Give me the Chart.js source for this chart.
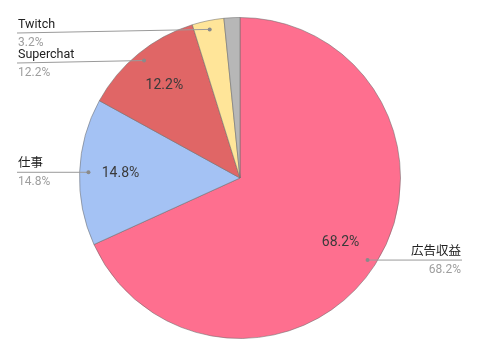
<!DOCTYPE html>
<html><head><meta charset="utf-8">
<script src="https://cdn.jsdelivr.net/npm/chart.js@4/dist/chart.umd.min.js"></script>
<style>html,body{margin:0;padding:0;background:#fff}#wrap{width:480px;height:354px}</style>
</head><body><div id="wrap"><canvas id="c"></canvas></div>
<script>
const categories = ['広告収益', '仕事', 'Superchat', 'Twitch', ''];
const values = [68.2, 14.8, 12.2, 3.2, 1.6];
const percentLabels = ['68.2%', '14.8%', '12.2%', '3.2%', ''];
const colors = ['#fe6f8f', '#a4c2f4', '#e06666', '#ffe599', '#b7b7b7'];
// layout for outside labels (style/position only)
const outerLayout = [
  {side: 'right', x: 462, lineY: null},
  {side: 'left', x: 17, lineY: null},
  {side: 'left', x: 17, lineY: 63},
  {side: 'left', x: 17, lineY: 33},
  null
];
const FONT = 'Roboto, "Noto Sans CJK JP", sans-serif';

const labelPlugin = {
  id: 'pieLabels',
  afterDatasetsDraw(chart) {
    const ctx = chart.ctx;
    const meta = chart.getDatasetMeta(0);
    meta.data.forEach((arc, i) => {
      const p = arc.getProps(['x', 'y', 'startAngle', 'endAngle', 'outerRadius'], true);
      const mid = (p.startAngle + p.endAngle) / 2;
      const R = p.outerRadius;
      // inner label
      if (percentLabels[i] && values[i] > 5) {
        ctx.save();
        ctx.font = '14px ' + FONT;
        ctx.fillStyle = '#3a3a3a';
        ctx.textAlign = 'center';
        ctx.textBaseline = 'middle';
        ctx.fillText(percentLabels[i], p.x + Math.cos(mid) * R * 0.745, p.y + Math.sin(mid) * R * 0.745);
        ctx.restore();
      }
      const lay = outerLayout[i];
      if (!lay) return;
      const dx = p.x + Math.cos(mid) * R * 0.945;
      const dy = p.y + Math.sin(mid) * R * 0.945;
      const ly = lay.lineY == null ? dy : lay.lineY;
      ctx.save();
      ctx.strokeStyle = '#9a9a9a';
      ctx.lineWidth = 1;
      ctx.beginPath();
      ctx.moveTo(lay.x, ly);
      ctx.lineTo(dx, dy);
      ctx.stroke();
      ctx.fillStyle = '#8a8a8a';
      ctx.beginPath();
      ctx.arc(dx, dy, 2, 0, Math.PI * 2);
      ctx.fill();
      ctx.textAlign = lay.side === 'right' ? 'right' : 'left';
      ctx.textBaseline = 'middle';
      ctx.font = '12.5px ' + FONT;
      ctx.fillStyle = '#222';
      ctx.fillText(categories[i], lay.x + (lay.side === 'right' ? -1 : 1), ly - 8);
      ctx.font = '12px ' + FONT;
      ctx.fillStyle = '#9e9e9e';
      ctx.fillText(percentLabels[i], lay.x + (lay.side === 'right' ? -1 : 1), ly + 10);
      ctx.restore();
    });
  }
};

new Chart(document.getElementById('c'), {
  type: 'pie',
  data: {
    labels: categories,
    datasets: [{
      data: values,
      backgroundColor: colors,
      borderColor: 'rgba(110,110,110,0.55)',
      borderWidth: 1
    }]
  },
  options: {
    responsive: true,
    maintainAspectRatio: false,
    animation: false,
    layout: {padding: {top: 17, bottom: 15, left: 0, right: 0}},
    plugins: {legend: {display: false}, tooltip: {enabled: false}}
  },
  plugins: [labelPlugin]
});
</script>
</body></html>
